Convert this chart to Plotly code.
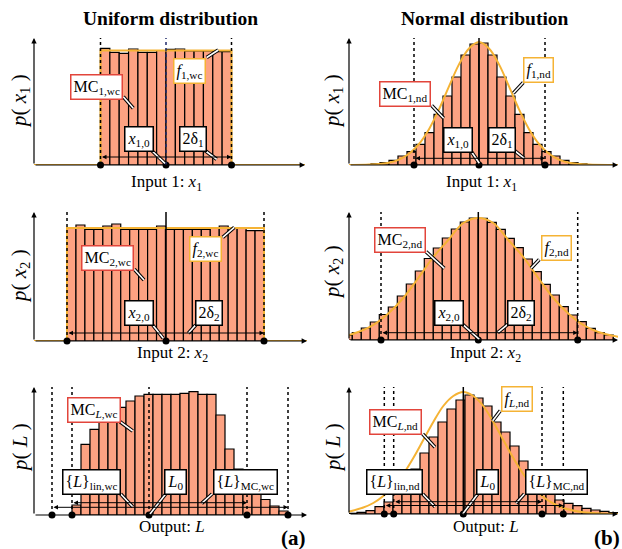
import plotly.graph_objects as go

W, H = 622, 549
FONT = "Liberation Serif"
BAR_FILL = "#FDA282"
F_COLOR = "#F5B335"
MC_RED = "#E2453B"

# ---------------- data (arbitrary units, x relative to nominal value) ----------------
# (a) uniform, input 1
a1_counts = [116.7, 112.7, 111.7, 116, 112.7, 112.7, 114.5, 115.7, 116, 114, 114, 114, 113.3, 113.3]
a1_bin_start, a1_bin_width = -65.5, 9.357
a1_f_x = [-132, -65.5, -65.5, 65.5, 65.5, 139]
a1_f_y = [0, 0, 114.5, 114.5, 0, 0]
a1_marks = [-65.5, 0, 65.5]

# (a) uniform, input 2
a2_counts = [113.3, 116, 111.7, 111.7, 115, 117, 111.7, 111.7, 111.7, 111.7, 115,
             111.7, 111.7, 111.7, 111.7, 111.7, 113, 115, 112.5, 112.5, 110.3, 110.3]
a2_bin_start, a2_bin_width = -99, 8.955
a2_f_x = [-132, -99, -99, 98, 98, 141]
a2_f_y = [0, 0, 113, 113, 0, 0]
a2_marks = [-99, 0, 98]

# (a) uniform, output L
a3_counts = [10, 70.7, 85.7, 93.3, 102.3, 107.7, 114, 119, 120.7, 120.7, 120.7, 120.7,
             121.7, 123.3, 120.7, 120.7, 100, 66, 46, 35, 23, 15.5, 9, 4]
a3_bin_start, a3_bin_width = -77, 9
a3_lin = [-77, 98]
a3_mc = [-97, 139]
a3_marks = [-97, -77, 0, 98, 139]

# (b) normal, input 1
b1_counts = [1.2, 2.3, 4.7, 9, 13.3, 20.7, 32.3, 50.7, 69, 88, 110, 121,
             122, 110, 88, 69, 50.7, 32.3, 20.7, 13.3, 9, 4.7, 2.3, 1.2]
b1_bin_start, b1_bin_width = -108, 9
b1_f_x = [-130, -110, -90, -80, -70, -60, -50, -40, -30, -20, -10, 0,
          10, 20, 30, 40, 50, 60, 70, 80, 90, 110, 139]
b1_f_y = [0.1, 0.4, 2.3, 5.4, 11.2, 21, 35.8, 55.6, 78.6, 100.6, 116.5, 123,
          116.5, 100.6, 78.6, 55.6, 35.8, 21, 11.2, 5.4, 2.3, 0.4, 0.1]
b1_marks = [-65, 0, 66]

# (b) normal, input 2
b2_counts = [4.5, 7.5, 12, 18, 25.5, 33, 44, 56, 69, 81.5, 92, 102, 111, 118, 122,
             121.7, 117.7, 110.7, 101.7, 92.3, 81, 68.3, 55.7, 45, 33.3, 25, 18.3, 11.7, 7.3, 5]
b2_bin_start, b2_bin_width = -135, 9
b2_f_x = [-130, -120, -105, -90, -75, -60, -45, -30, -15, 0,
          15, 30, 45, 60, 75, 90, 105, 120, 140]
b2_f_y = [4.8, 8, 15, 26.5, 42, 62, 83, 100, 117, 122,
          117, 100, 83, 62, 42, 26.5, 15, 8, 3.1]
b2_marks = [-97.3, 0, 99.4]

# (b) normal, output L
b3_counts = [0.7, 1.7, 3.3, 7.3, 12, 20, 32, 45, 61, 77, 92, 105, 114, 119, 116,
             108, 92, 82, 68, 53, 42, 30, 23, 14, 10.7, 8.3, 5.7, 4, 2.7, 1.5]
b3_bin_start, b3_bin_width = -115.3, 9
b3_f_x = [-115, -100, -90, -80, -70, -60, -50, -40, -30, -20, -10, 0,
          10, 20, 30, 40, 50, 60, 70, 80, 90, 100, 120, 155]
b3_f_y = [2.2, 6.5, 11, 18, 27.5, 40, 56, 74, 92, 108, 118, 122,
          118, 108, 92, 74, 56, 40, 26.5, 17, 10.5, 6, 1.8, 0.1]
b3_lin = [-69.6, 78.7]
b3_mc = [-79, 100]
b3_marks = [-79, -69.6, 0, 78.7, 100]

# ---------------- layout of panels (pixel frames) ----------------
panels = [
    dict(frame=(34, 305, 38, 165, 166), counts=a1_counts, start=a1_bin_start, width=a1_bin_width,
         fx=a1_f_x, fy=a1_f_y, shape="linear", marks=a1_marks, center=("#1F2A6B", "dot"),
         intervals=[(a1_marks[0], a1_marks[2], 8)]),
    dict(frame=(34, 307, 212, 341, 166), counts=a2_counts, start=a2_bin_start, width=a2_bin_width,
         fx=a2_f_x, fy=a2_f_y, shape="linear", marks=a2_marks, center=("black", "solid"),
         intervals=[(a2_marks[0], a2_marks[2], 8)]),
    dict(frame=(34, 307, 387, 515, 149), counts=a3_counts, start=a3_bin_start, width=a3_bin_width,
         fx=None, fy=None, shape=None, marks=a3_marks, center=("black", "dot"),
         intervals=[(a3_lin[0], a3_lin[1], 12.3), (a3_mc[0], a3_mc[1], 7.7)]),
    dict(frame=(349, 618, 38, 165, 479), counts=b1_counts, start=b1_bin_start, width=b1_bin_width,
         fx=b1_f_x, fy=b1_f_y, shape="spline", marks=b1_marks, center=("black", "solid"),
         intervals=[(b1_marks[0], b1_marks[2], 6.7)]),
    dict(frame=(349, 618, 212, 340, 478.3), counts=b2_counts, start=b2_bin_start, width=b2_bin_width,
         fx=b2_f_x, fy=b2_f_y, shape="spline", marks=b2_marks, center=("black", "solid"),
         intervals=[(b2_marks[0], b2_marks[2], 7.3)]),
    dict(frame=(349, 618, 387, 514, 463.3), counts=b3_counts, start=b3_bin_start, width=b3_bin_width,
         fx=b3_f_x, fy=b3_f_y, shape="spline", marks=b3_marks, center=("black", "solid"),
         intervals=[(b3_lin[0], b3_lin[1], 12.3), (b3_mc[0], b3_mc[1], 8.5)]),
]

fig = go.Figure()
layout = {}
shapes = []
annotations = []


def px(x, y):
    return x / W, 1 - y / H


for idx, p in enumerate(panels, start=1):
    xr = "x" if idx == 1 else f"x{idx}"
    yr = "y" if idx == 1 else f"y{idx}"
    left, right, top, base, cx = p["frame"]
    ymax = base - top
    xmin, xmax = left - cx, right - cx
    layout["xaxis" if idx == 1 else f"xaxis{idx}"] = dict(
        domain=[left / W, right / W], range=[xmin, xmax], visible=False, fixedrange=True, anchor=yr)
    layout["yaxis" if idx == 1 else f"yaxis{idx}"] = dict(
        domain=[1 - base / H, 1 - top / H], range=[0, ymax], visible=False, fixedrange=True, anchor=xr)

    centers = [p["start"] + (i + 0.5) * p["width"] for i in range(len(p["counts"]))]
    fig.add_trace(go.Bar(x=centers, y=p["counts"], width=p["width"], xaxis=xr, yaxis=yr,
                         marker=dict(color=BAR_FILL, line=dict(color="black", width=1.2))))
    if p["fx"] is not None:
        fig.add_trace(go.Scatter(x=p["fx"], y=p["fy"], mode="lines", xaxis=xr, yaxis=yr,
                                 line=dict(color=F_COLOR, width=2, shape=p["shape"])))
    # vertical reference lines
    for m in p["marks"]:
        if m == 0:
            col, dash = p["center"]
        else:
            col, dash = "black", "dot"
        shapes.append(dict(type="line", xref=xr, yref=yr, x0=m, x1=m, y0=0, y1=ymax,
                           line=dict(color=col, width=1.5, dash=dash), layer="above"))
    # dots
    fig.add_trace(go.Scatter(x=p["marks"], y=[0] * len(p["marks"]), mode="markers",
                             xaxis=xr, yaxis=yr, cliponaxis=False,
                             marker=dict(color="black", size=7)))
    # interval arrows
    for (a, b, yl) in p["intervals"]:
        annotations.append(dict(xref=xr, yref=yr, axref=xr, ayref=yr, x=b, y=yl, ax=a, ay=yl,
                                text="", showarrow=True, arrowside="end+start", arrowhead=2,
                                startarrowhead=2, arrowsize=0.9, startarrowsize=0.9,
                                arrowwidth=1, arrowcolor="black", standoff=0, startstandoff=0))
    # axes arrows
    annotations.append(dict(xref=xr, yref=yr, axref=xr, ayref=yr, x=xmax, y=0, ax=xmin, ay=0,
                            text="", showarrow=True, arrowhead=2, arrowsize=0.9, arrowwidth=1.2,
                            arrowcolor="black", standoff=0))
    annotations.append(dict(xref=xr, yref=yr, axref=xr, ayref=yr, x=xmin, y=ymax, ax=xmin, ay=0,
                            text="", showarrow=True, arrowhead=2, arrowsize=0.9, arrowwidth=1.2,
                            arrowcolor="black", standoff=0))

# ---------------- leader lines ----------------
leaders = [
    (123.3, 96.7, 133.3, 108.3), (206.7, 57.5, 218.3, 50), (151.7, 150.5, 165, 163.3), (205, 150.5, 216.7, 159.3),
    (431.7, 105.5, 443.7, 118.3), (523.3, 82.5, 513.3, 93.3), (471, 151, 479.3, 163.3), (515, 151, 524.3, 158.3),
    (134.3, 269.3, 144, 280), (222.7, 237.3, 234.3, 227.3), (152.7, 325, 163.3, 338.3), (195.7, 325, 188.3, 333.3),
    (426, 251.7, 444.3, 268.3), (539.3, 259.5, 531, 268.3), (462.7, 324.3, 479.3, 339.3), (507.7, 324.3, 497.7, 332.7),
    (120, 421.7, 132.7, 431), (120.7, 494, 132.7, 506.7), (165.7, 494, 150, 514), (212, 494, 201.7, 503.3),
    (422.7, 434, 435, 447.3), (500.3, 410.7, 492.7, 420.7), (422.7, 494, 435, 506.7), (477.7, 494, 462.7, 514),
    (524.3, 494, 516, 503.3),
]
for (x0, y0, x1, y1) in leaders:
    a0, b0 = px(x0, y0)
    a1_, b1_ = px(x1, y1)
    shapes.append(dict(type="line", xref="paper", yref="paper", x0=a0, y0=b0, x1=a1_, y1=b1_,
                       line=dict(color="black", width=3.6), layer="above"))
    shapes.append(dict(type="line", xref="paper", yref="paper", x0=a0, y0=b0, x1=a1_, y1=b1_,
                       line=dict(color="white", width=1.6), layer="above"))

# ---------------- label boxes ----------------
boxes = [
    (96.5, 86.5, "MC<sub>1,wc</sub>", MC_RED), (189.7, 71.3, "<i>f</i><sub>1,wc</sub>", F_COLOR),
    (138.7, 139.2, "<i>x</i><sub>1,0</sub>", "black"), (192.8, 139.2, "2δ<sub>1</sub>", "black"),
    (404.7, 93.8, "MC<sub>1,nd</sub>", MC_RED), (538.2, 69.7, "<i>f</i><sub>1,nd</sub>", F_COLOR),
    (457.7, 140, "<i>x</i><sub>1,0</sub>", "black"), (501.7, 140, "2δ<sub>1</sub>", "black"),
    (107.5, 257.7, "MC<sub>2,wc</sub>", MC_RED), (205.5, 249, "<i>f</i><sub>2,wc</sub>", F_COLOR),
    (138.5, 313.3, "<i>x</i><sub>2,0</sub>", "black"), (208.7, 313.3, "2δ<sub>2</sub>", "black"),
    (400.2, 240, "MC<sub>2,nd</sub>", MC_RED), (556, 248.3, "<i>f</i><sub>2,nd</sub>", F_COLOR),
    (448.5, 313, "<i>x</i><sub>2,0</sub>", "black"), (520.7, 313, "2δ<sub>2</sub>", "black"),
    (94.2, 409.5, "MC<sub><i>L</i>,wc</sub>", MC_RED),
    (91.5, 482.3, "{<i>L</i>}<sub>lin,wc</sub>", "black"), (175.5, 482.3, "<i>L</i><sub>0</sub>", "black"),
    (245.2, 482.3, "{<i>L</i>}<sub>MC,wc</sub>", "black"),
    (395.5, 422.3, "MC<sub><i>L</i>,nd</sub>", MC_RED), (517, 399, "<i>f</i><sub><i>L</i>,nd</sub>", F_COLOR),
    (394.3, 482, "{<i>L</i>}<sub>lin,nd</sub>", "black"), (487.7, 482, "<i>L</i><sub>0</sub>", "black"),
    (556.8, 482, "{<i>L</i>}<sub>MC,nd</sub>", "black"),
]
for (x, y, t, c) in boxes:
    a, b = px(x, y)
    annotations.append(dict(xref="paper", yref="paper", x=a, y=b, text=t, showarrow=False,
                            xanchor="center", yanchor="middle", bgcolor="white", bordercolor=c,
                            borderwidth=1.5, borderpad=2, font=dict(family=FONT, size=16, color="black")))

# ---------------- titles and axis labels ----------------
texts = [
    (171, 18, "<b>Uniform distribution</b>", 19.5, 0),
    (485, 18, "<b>Normal distribution</b>", 19.5, 0),
    (166, 183, "Input 1: <i>x</i><sub>1</sub>", 17, 0),
    (481, 183, "Input 1: <i>x</i><sub>1</sub>", 17, 0),
    (172, 354, "Input 2: <i>x</i><sub>2</sub>", 17, 0),
    (485, 354, "Input 2: <i>x</i><sub>2</sub>", 17, 0),
    (172, 526, "Output: <i>L</i>", 17, 0),
    (486, 526, "Output: <i>L</i>", 17, 0),
    (20, 101, "<i>p</i>( <i>x</i><sub>1</sub> )", 21, -90),
    (20, 276, "<i>p</i>( <i>x</i><sub>2</sub> )", 21, -90),
    (20, 448, "<i>p</i>( <i>L</i> )", 21, -90),
    (333, 101, "<i>p</i>( <i>x</i><sub>1</sub> )", 21, -90),
    (333, 272, "<i>p</i>( <i>x</i><sub>2</sub> )", 21, -90),
    (333, 448, "<i>p</i>( <i>L</i> )", 21, -90),
    (293.5, 538, "<b>(a)</b>", 21, 0),
    (607, 538, "<b>(b)</b>", 21, 0),
]
for (x, y, t, s, ang) in texts:
    a, b = px(x, y)
    annotations.append(dict(xref="paper", yref="paper", x=a, y=b, text=t, showarrow=False,
                            xanchor="center", yanchor="middle", textangle=ang,
                            font=dict(family=FONT, size=s, color="black")))

fig.update_layout(
    width=W, height=H, margin=dict(l=0, r=0, t=0, b=0),
    paper_bgcolor="white", plot_bgcolor="rgba(0,0,0,0)",
    showlegend=False, barmode="overlay",
    shapes=shapes, annotations=annotations,
    **layout,
)

fig.write_html("out.html")
